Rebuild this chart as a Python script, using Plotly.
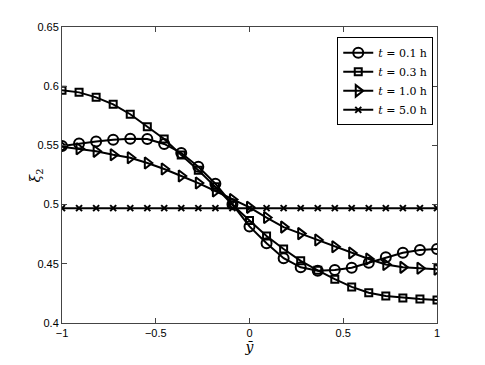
import plotly.graph_objects as go

# y-bar positions (23 nodes from -1 to 1)
ybar = [-1.0, -0.909, -0.818, -0.727, -0.636, -0.545, -0.455, -0.364, -0.273, -0.182, -0.091, 0.0,
        0.091, 0.182, 0.273, 0.364, 0.455, 0.545, 0.636, 0.727, 0.818, 0.909, 1.0]

# xi_2 profiles
xi_t01 = [0.5495, 0.5516, 0.5533, 0.5548, 0.5557, 0.5554, 0.5512, 0.5436, 0.532, 0.5177, 0.5002, 0.4816,
          0.4673, 0.4547, 0.447, 0.4442, 0.4448, 0.4467, 0.4509, 0.4555, 0.4594, 0.4617, 0.4625]
xi_t03 = [0.5965, 0.5948, 0.5906, 0.5847, 0.5763, 0.5658, 0.5554, 0.5419, 0.529, 0.515, 0.4998, 0.4865,
          0.4735, 0.4625, 0.4525, 0.4445, 0.437, 0.4305, 0.4256, 0.4228, 0.4212, 0.4202, 0.4194]
xi_t10 = [0.5489, 0.5472, 0.545, 0.5421, 0.5396, 0.5351, 0.5301, 0.5242, 0.5182, 0.5115, 0.5043, 0.4977,
          0.4891, 0.481, 0.4755, 0.4701, 0.4644, 0.4591, 0.4541, 0.4494, 0.447, 0.4462, 0.4454]
xi_t50 = [0.497] * 23

series = [
    ("<i>t</i> = 0.1 h", xi_t01, "circle-open", 10),
    ("<i>t</i> = 0.3 h", xi_t03, "square-open", 7),
    ("<i>t</i> = 1.0 h", xi_t10, "triangle-right-open", 10),
    ("<i>t</i> = 5.0 h", xi_t50, "x-thin-open", 6),
]

xticks = [-1, -0.5, 0, 0.5, 1]
xtick_text = ["\u22121", "\u22120.5", "0", "0.5", "1"]
yticks = [0.4, 0.45, 0.5, 0.55, 0.6, 0.65]
ytick_text = ["0.4", "0.45", "0.5", "0.55", "0.6", "0.65"]

fig = go.Figure()
for name, vals, sym, size in series:
    fig.add_trace(go.Scatter(
        x=ybar, y=vals, name=name, mode="lines+markers",
        line=dict(color="black", width=2),
        marker=dict(symbol=sym, size=size, color="black", line=dict(color="black", width=2)),
    ))

axis_common = dict(
    showgrid=False, zeroline=False, showline=True, linecolor="#444", linewidth=1,
    mirror="ticks", ticks="inside", ticklen=5, tickcolor="#444",
    tickfont=dict(family="Liberation Sans, Arial", size=11, color="black"),
)

fig.update_xaxes(range=[-1, 1], tickvals=xticks, ticktext=xtick_text,
                 title=dict(text="<i>\u0233</i>", font=dict(family="DejaVu Serif", size=14, color="black"),
                            standoff=1),
                 **axis_common)
fig.update_yaxes(range=[0.4, 0.65], tickvals=yticks, ticktext=ytick_text, **axis_common)

# y label placed by hand, left of the tick labels like the original
fig.add_annotation(text="<i>\u03be</i><sub>2</sub>", xref="paper", yref="paper",
                   x=-0.1, y=0.497, showarrow=False, textangle=-90,
                   font=dict(family="DejaVu Serif", size=14, color="black"))

# page body has an 8px margin, margins compensate for it
fig.update_layout(
    width=485, height=365,
    margin=dict(l=54, r=56, t=19, b=50),
    plot_bgcolor="white", paper_bgcolor="white",
    legend=dict(x=0.99, y=0.965, xanchor="right", yanchor="top",
                bgcolor="white", bordercolor="black", borderwidth=1,
                font=dict(family="DejaVu Serif", size=11, color="black"),
                tracegroupgap=0),
    showlegend=True,
)

fig.write_html("out.html")
